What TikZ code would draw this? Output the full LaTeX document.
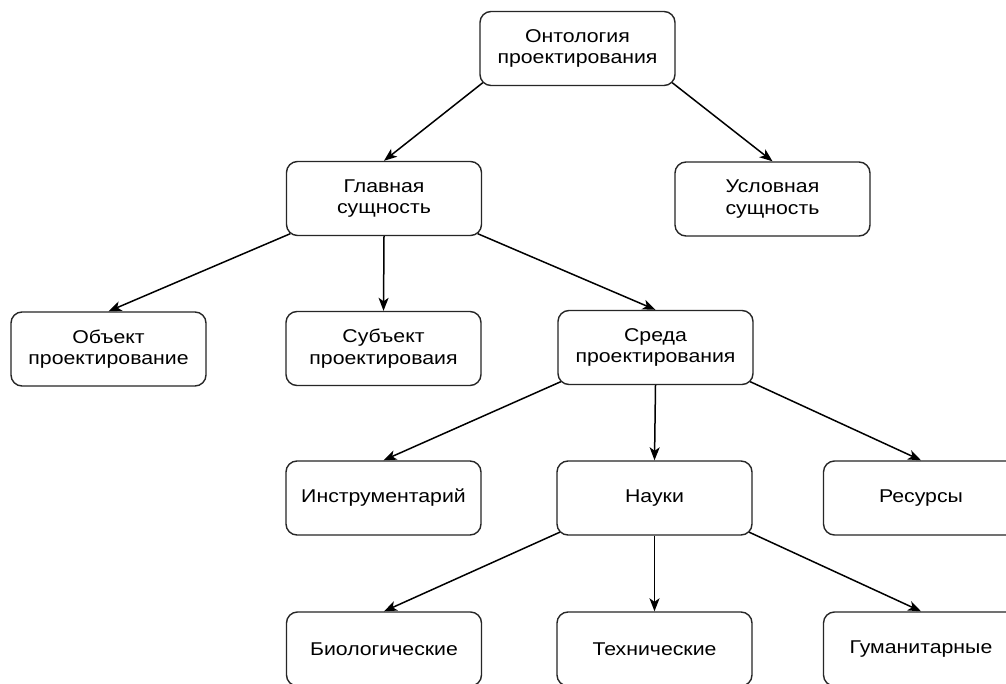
\documentclass[tikz,border=0pt]{standalone}
\usepackage{fontspec}
\setmainfont{Liberation Sans}[FakeStretch=1.15]
\usetikzlibrary{arrows.meta,calc}
\begin{document}
\begin{tikzpicture}[x=1pt,y=1pt,
  box/.style={draw=black!85, line width=1.4pt, rounded corners=11pt,
    minimum width=195pt, minimum height=74pt, align=center,
    font=\fontsize{18.5}{21.5}\selectfont, text=black, inner sep=0pt},
  arr/.style={draw=black, line width=1.5pt,
    -{Stealth[length=13pt,width=10pt,inset=3.5pt]}}]
\useasboundingbox (0,0) rectangle (1006,683);
\fill[white] (0,0) rectangle (1006,683);
\node[box] (ont) at (577.5,634.5) {Онтология\\проектирования};
\node[box] (gl)  at (384,484.5)  {Главная\\сущность};
\node[box] (usl) at (772.5,484)  {Условная\\сущность};
\node[box] (obj) at (108.5,334)  {Объект\\проектирование};
\node[box] (sub) at (383.5,334.5) {Субъект\\проектироваия};
\node[box] (sre) at (655.5,335.5) {Среда\\проектирования};
\node[box] (ins) at (383.5,185)  {Инструментарий};
\node[box] (nau) at (654.5,185)  {Науки};
\node[box] (res) at (921,185)    {Ресурсы};
\node[box] (bio) at (384,34)     {Биологические};
\node[box] (teh) at (654.5,34)   {Технические};
\node[box] (gum) at (921,34)     {Гуманитарные};
% corner exit points
\coordinate (ontL) at ($(ont.south west)+(3.5,3.5)$);
\coordinate (ontR) at ($(ont.south east)+(-3.5,3.5)$);
\coordinate (glL)  at ($(gl.south west)+(4.5,2.5)$);
\coordinate (glR)  at ($(gl.south east)+(-4.5,2.5)$);
\coordinate (sreL) at ($(sre.south west)+(3.5,3.5)$);
\coordinate (sreR) at ($(sre.south east)+(-3.5,3.5)$);
\coordinate (nauL) at ($(nau.south west)+(3.5,3.5)$);
\coordinate (nauR) at ($(nau.south east)+(-3.5,3.5)$);
\draw[arr] (ontL) -- (gl.north);
\draw[arr] (ontR) -- (usl.north);
\draw[arr] (glL) -- (obj.north);
\draw[arr] (gl.south) -- (sub.north);
\draw[arr] (glR) -- (sre.north);
\draw[arr] (sreL) -- (ins.north);
\draw[arr] (sre.south) -- (nau.north);
\draw[arr] (sreR) -- (res.north);
\draw[arr] (nauL) -- (bio.north);
\draw[arr] (nau.south) -- (teh.north);
\draw[arr] (nauR) -- (gum.north);
\end{tikzpicture}
\end{document}
